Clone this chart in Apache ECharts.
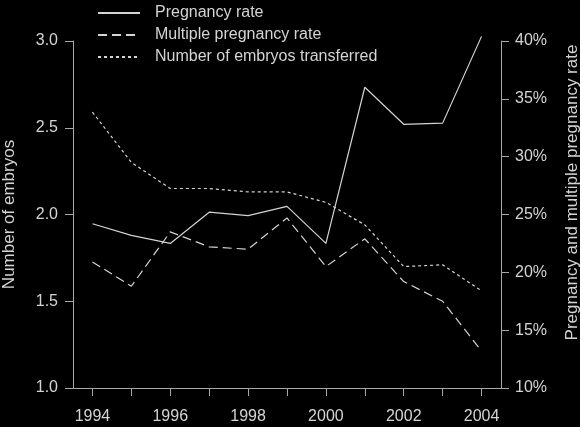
<!DOCTYPE html>
<html>
<head>
<meta charset="utf-8">
<script src="https://cdn.jsdelivr.net/npm/echarts@6/dist/echarts.min.js"></script>
<style>
  html, body { margin: 0; padding: 0; background: #000; }
  #chart { width: 580px; height: 427px; }
</style>
</head>
<body>
<div id="chart"></div>
<script>
const years = [1994, 1995, 1996, 1997, 1998, 1999, 2000, 2001, 2002, 2003, 2004];
const xLabelYears = [1994, 1996, 1998, 2000, 2002, 2004];
const pregnancyRate = [24.2, 23.2, 22.5, 25.2, 24.9, 25.7, 22.5, 36.0, 32.8, 32.9, 40.4];
const multiplePregnancyRate = [20.9, 18.8, 23.5, 22.2, 22.0, 24.7, 20.5, 22.9, 19.2, 17.5, 13.2];
const embryosTransferred = [2.59, 2.30, 2.15, 2.15, 2.13, 2.13, 2.07, 1.94, 1.70, 1.71, 1.56];
const seriesNames = ['Pregnancy rate', 'Multiple pregnancy rate', 'Number of embryos transferred'];
const leftAxisName = 'Number of embryos';
const rightAxisName = 'Pregnancy and multiple pregnancy rate';

const FG = '#d4d4d4';
const AXIS = '#a8a8a8';
const FONT = '"Liberation Sans", Arial, Helvetica, sans-serif';

function pairs(vals) { return years.map((y, i) => [y, vals[i]]); }

const chart = echarts.init(document.getElementById('chart'), null, { renderer: 'canvas' });
chart.setOption({
  backgroundColor: '#000',
  animation: false,
  textStyle: { fontFamily: FONT, color: FG },
  legend: {
    orient: 'vertical',
    left: 97,
    top: 5,
    padding: 0,
    itemWidth: 42,
    itemHeight: 14,
    itemGap: 6,
    itemStyle: { color: 'rgba(0,0,0,0)', borderWidth: 0, opacity: 0 },
    textStyle: { color: FG, fontSize: 16, fontFamily: FONT, lineHeight: 14, padding: [0, 0, 0, 10] },
    data: seriesNames
  },
  grid: { left: 73, right: 79, top: 41, bottom: 39, containLabel: false, outerBoundsMode: 'none' },
  xAxis: {
    type: 'value',
    min: 1993.5,
    max: 2004.5,
    axisLine: { show: true, lineStyle: { color: AXIS, width: 1 } },
    axisTick: { show: true, length: 8, lineStyle: { color: AXIS }, customValues: years },
    axisLabel: { color: FG, fontSize: 16, margin: 21, fontFamily: FONT, customValues: xLabelYears, formatter: v => String(v) },
    splitLine: { show: false }
  },
  yAxis: [
    {
      type: 'value',
      position: 'left',
      min: 1, max: 3, interval: 0.5,
      name: leftAxisName,
      nameLocation: 'middle',
      nameRotate: 90,
      nameGap: 55,
      nameTextStyle: { color: FG, fontSize: 17, fontFamily: FONT },
      axisLine: { show: true, lineStyle: { color: AXIS, width: 1 } },
      axisTick: { show: true, length: 8, lineStyle: { color: AXIS } },
      axisLabel: { color: FG, fontSize: 16, margin: 15, fontFamily: FONT, formatter: v => v.toFixed(1) },
      splitLine: { show: false }
    },
    {
      type: 'value',
      position: 'right',
      min: 10, max: 40, interval: 5,
      name: rightAxisName,
      nameLocation: 'middle',
      nameRotate: 90,
      nameGap: 63,
      nameTextStyle: { color: FG, fontSize: 17, fontFamily: FONT, padding: [0, 0, 0, 44] },
      axisLine: { show: true, lineStyle: { color: AXIS, width: 1 } },
      axisTick: { show: true, length: 8, lineStyle: { color: AXIS } },
      axisLabel: { color: FG, fontSize: 16, margin: 14, fontFamily: FONT, formatter: v => v + '%' },
      splitLine: { show: false }
    }
  ],
  series: [
    {
      name: seriesNames[0], type: 'line', yAxisIndex: 1, symbol: 'none', clip: false,
      data: pairs(pregnancyRate),
      lineStyle: { color: FG, width: 1.2, type: 'solid' },
      itemStyle: { color: FG }
    },
    {
      name: seriesNames[1], type: 'line', yAxisIndex: 1, symbol: 'none', clip: false,
      data: pairs(multiplePregnancyRate),
      lineStyle: { color: FG, width: 1.2, type: [9, 5] },
      itemStyle: { color: FG }
    },
    {
      name: seriesNames[2], type: 'line', yAxisIndex: 0, symbol: 'none', clip: false,
      data: pairs(embryosTransferred),
      lineStyle: { color: FG, width: 1.2, type: [3, 3] },
      itemStyle: { color: FG }
    }
  ]
});
</script>
</body>
</html>
